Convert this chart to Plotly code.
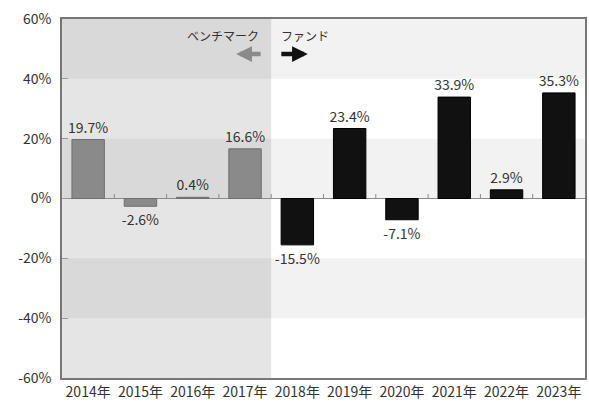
import plotly.graph_objects as go

years = ["2014年", "2015年", "2016年", "2017年", "2018年", "2019年", "2020年", "2021年", "2022年", "2023年"]
returns = [19.7, -2.6, 0.4, 16.6, -15.5, 23.4, -7.1, 33.9, 2.9, 35.3]
is_benchmark = [True, True, True, True, False, False, False, False, False, False]
labels = [f"{v:.1f}%" for v in returns]
y_ticks = [-60, -40, -20, 0, 20, 40, 60]
y_tick_text = [f"{t}%" for t in y_ticks]

FONT = "Noto Sans CJK JP, Noto Sans, sans-serif"
colors = ["#8a8a8a" if b else "#111111" for b in is_benchmark]
edge = ["#6e6e6e" if b else "#000000" for b in is_benchmark]
xs = list(range(len(years)))

fig = go.Figure()
fig.add_trace(go.Bar(
    x=xs, y=returns, text=labels, textposition="outside", constraintext="none",
    textfont=dict(size=14, color="#333333", family=FONT),
    marker=dict(color=colors, line=dict(color=edge, width=1)),
    width=0.62, cliponaxis=False, showlegend=False,
))

shapes = []
# alternating bands
for lo, hi in [(40, 60), (0, 20), (-40, -20)]:
    shapes.append(dict(type="rect", xref="paper", yref="y", x0=0, x1=1, y0=lo, y1=hi,
                       fillcolor="#f2f2f2", line_width=0, layer="below"))
# benchmark region overlay
n_bench = sum(is_benchmark)
shapes.append(dict(type="rect", xref="x", yref="paper", x0=-0.5, x1=n_bench - 0.5, y0=0, y1=1,
                   fillcolor="rgba(0,0,0,0.1)", line_width=0, layer="below"))
# zero line
shapes.append(dict(type="line", xref="paper", yref="y", x0=0, x1=1, y0=0, y1=0,
                   line=dict(color="#8a8a8a", width=1), layer="below"))
# category boundary ticks on zero line
for i in range(len(years) - 1):
    shapes.append(dict(type="line", xref="x", yref="y", x0=i + 0.5, x1=i + 0.5, y0=0, y1=1.5,
                       line=dict(color="#8a8a8a", width=1), layer="below"))

annotations = [
    dict(x=3.31, y=54.5, xref="x", yref="y", text="ベンチマーク", showarrow=False,
         xanchor="right", yanchor="middle", font=dict(size=12, color="#333333", family=FONT)),
    dict(x=3.65, y=54.5, xref="x", yref="y", text="ファンド", showarrow=False,
         xanchor="left", yanchor="middle", font=dict(size=12, color="#333333", family=FONT)),
    dict(x=2.83, y=48.3, xref="x", yref="y", ax=26, ay=0, axref="pixel", ayref="pixel",
         text="", showarrow=True, arrowhead=2, arrowsize=0.7, arrowwidth=4.5, arrowcolor="#8a8a8a"),
    dict(x=4.2, y=48.3, xref="x", yref="y", ax=-28, ay=0, axref="pixel", ayref="pixel",
         text="", showarrow=True, arrowhead=2, arrowsize=0.7, arrowwidth=4.5, arrowcolor="#111111"),
]

fig.update_layout(
    width=589, height=403,
    margin=dict(l=62, r=2, t=19, b=24),
    paper_bgcolor="white", plot_bgcolor="white",
    bargap=0.38,
    shapes=shapes, annotations=annotations,
    font=dict(family=FONT, color="#333333"),
    xaxis=dict(
        tickmode="array", tickvals=xs, ticktext=years, range=[-0.5, len(years) - 0.5],
        showgrid=False, zeroline=False, showline=True, linecolor="#777777", linewidth=1.5,
        mirror=True, ticks="", tickfont=dict(size=14, color="#333333", family=FONT),
    ),
    yaxis=dict(
        range=[-60, 60], tickmode="array", tickvals=y_ticks, ticktext=y_tick_text,
        showgrid=False, zeroline=False, showline=True, linecolor="#777777", linewidth=1.5,
        mirror=True, ticks="inside", ticklen=6, tickcolor="#999999",
        tickfont=dict(size=14, color="#333333", family=FONT), ticklabelstandoff=6,
    ),
)

fig.write_html("out.html", config={"displayModeBar": False})

# remove default page margin so the figure sits at the window's top-left corner
with open("out.html", "r", encoding="utf-8") as f:
    html = f.read()
html = html.replace("<head>", "<head><style>html,body{margin:0;padding:0;overflow:hidden;}</style>", 1)
with open("out.html", "w", encoding="utf-8") as f:
    f.write(html)
